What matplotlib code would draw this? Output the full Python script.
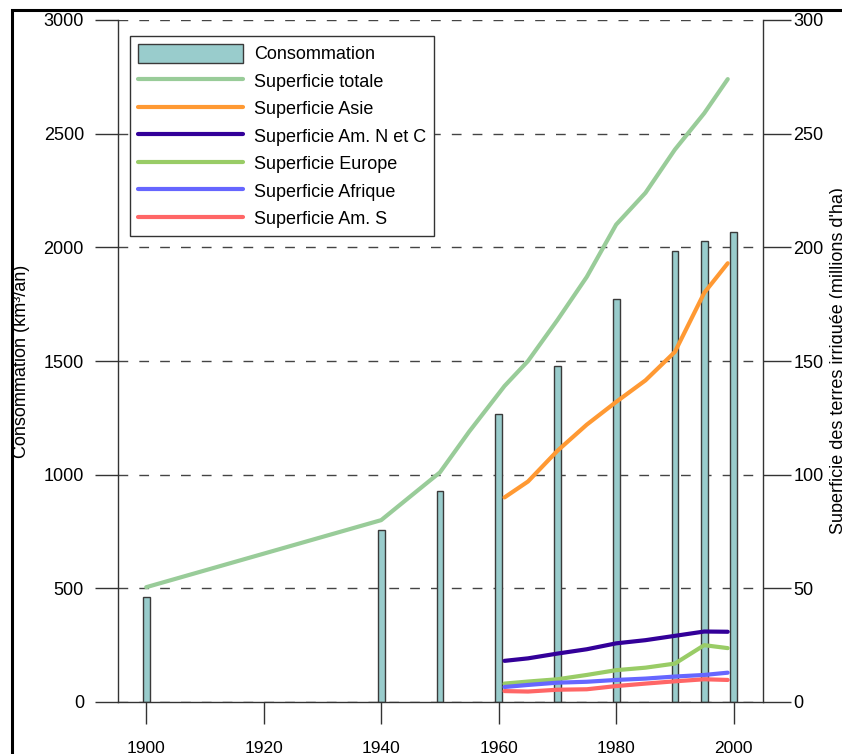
import matplotlib
matplotlib.use("Agg")
import matplotlib.pyplot as plt
from matplotlib.patches import Rectangle

plt.rcParams["font.family"] = ["Liberation Sans", "DejaVu Sans"]

# Consommation (km3/an)
bar_years = [1900, 1940, 1950, 1960, 1970, 1980, 1990, 1995, 2000]
conso = [463, 757, 926, 1265, 1477, 1772, 1985, 2026, 2066]

# Superficie totale (millions d'ha)
tot_years = [1900, 1940, 1950, 1955, 1961, 1965, 1970, 1975, 1980, 1985, 1990, 1995, 1999]
tot = [50.5, 80, 101, 119, 139, 150, 168, 187, 210, 224, 243, 259, 274]

# Superficies régionales
reg_years = [1961, 1965, 1970, 1975, 1980, 1985, 1990, 1995, 1999]
asie = [90, 97, 110.5, 122, 132, 141.5, 154, 180, 193]
amnc = [18.1, 19.2, 21.3, 23.2, 25.8, 27.2, 29.1, 31.0, 30.9]
europe = [8.1, 9.0, 10.0, 11.9, 14.0, 15.1, 16.9, 25.0, 23.7]
afrique = [6.6, 7.5, 8.5, 8.9, 9.7, 10.3, 11.2, 11.9, 12.9]
ams = [4.8, 4.6, 5.4, 5.6, 7.0, 8.1, 9.1, 10.0, 9.7]

W, H = 842, 754
fig = plt.figure(figsize=(W / 100, H / 100), dpi=100)
ax = fig.add_axes([118 / W, 52 / H, 645 / W, 682 / H])
ax2 = ax.twinx()

spine_c = "#333333"
bars = ax.bar(bar_years, conso, width=1.15, color="#99cccc", edgecolor="#3a3a3a",
              linewidth=1, label="Consommation", zorder=2)
ax.set_xlim(1895.2, 2005)
ax.set_ylim(0, 3000)
ax.set_yticks(range(0, 3001, 500))
ax.set_xticks(range(1900, 2001, 20))
ax.grid(axis="y", color="#444444", linewidth=1, linestyle=(0, (7, 8)), zorder=0)
ax.set_axisbelow(True)

lw = 3
l1, = ax2.plot(tot_years, tot, color="#99cc99", lw=lw, solid_capstyle="round", label="Superficie totale")
l2, = ax2.plot(reg_years, asie, color="#ff9933", lw=lw, solid_capstyle="round", label="Superficie Asie")
l3, = ax2.plot(reg_years, amnc, color="#330099", lw=lw, solid_capstyle="round", label="Superficie Am. N et C")
l4, = ax2.plot(reg_years, europe, color="#99cc66", lw=lw, solid_capstyle="round", label="Superficie Europe")
l5, = ax2.plot(reg_years, afrique, color="#6666ff", lw=lw, solid_capstyle="round", label="Superficie Afrique")
l6, = ax2.plot(reg_years, ams, color="#ff6666", lw=lw, solid_capstyle="round", label="Superficie Am. S")
ax2.set_ylim(0, 300)
ax2.set_yticks(range(0, 301, 50))

for a in (ax, ax2):
    a.spines["top"].set_visible(False)
    for s in a.spines.values():
        s.set_color(spine_c)
        s.set_linewidth(1)
ax.spines["right"].set_visible(False)
ax2.spines["left"].set_visible(False)
ax2.spines["bottom"].set_visible(False)

ax.tick_params(axis="y", direction="out", length=16.5, width=1, color=spine_c,
               pad=8, labelsize=13)
ax.tick_params(axis="x", direction="out", length=16, width=1, color=spine_c,
               pad=12, labelsize=12.5)
ax2.tick_params(axis="y", direction="out", length=20, width=1, color=spine_c,
                pad=2, labelsize=13)

ax.set_ylabel("Consommation (km³/an)", fontsize=13)
ax.yaxis.set_label_coords(-0.136, 0.5)
ax2.set_ylabel("Superficie des terres irriguée (millions d'ha)", fontsize=13)
ax2.yaxis.set_label_coords(1.104, 0.5)

handles = [bars, l1, l2, l3, l4, l5, l6]
leg = ax2.legend(handles=handles, loc="upper left",
                 bbox_to_anchor=(12 / 645, (702 - 36) / 682), borderaxespad=0,
                 fontsize=13, handlelength=5.8, handleheight=1.2,
                 handletextpad=0.6, labelspacing=0.45, borderpad=0.45,
                 fancybox=False, framealpha=1, edgecolor="#333333")
leg.get_frame().set_linewidth(1)

# cadre de la figure
fig.add_artist(Rectangle((12 / W, -0.2), 1.2, (H - 10) / H + 0.2, fill=False,
                         lw=2.2, edgecolor="black", transform=fig.transFigure,
                         clip_on=False))

fig.savefig("out.png", dpi=100, facecolor="white")
